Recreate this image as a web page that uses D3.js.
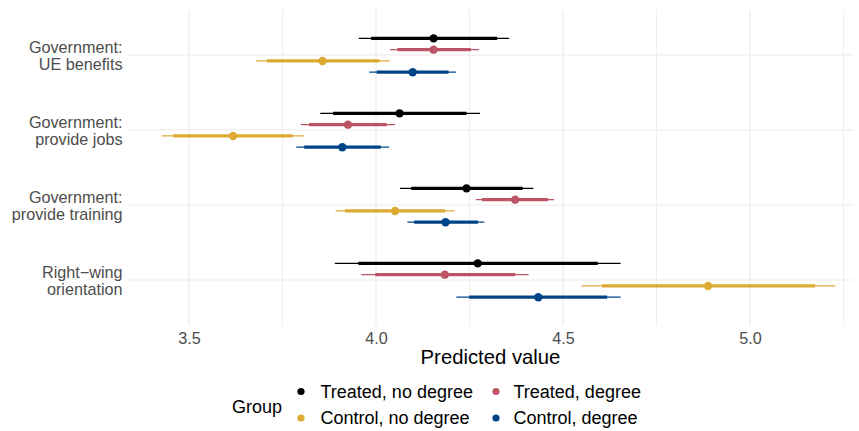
<!DOCTYPE html>
<html>
<head>
<meta charset="utf-8">
<script src="https://cdn.jsdelivr.net/npm/d3@7"></script>
<style>
  html, body { margin: 0; padding: 0; background: #fff; }
  svg { display: block; font-family: "Liberation Sans", Arial, Helvetica, sans-serif; }
</style>
</head>
<body>
<svg id="chart" width="859" height="431"></svg>
<script>
// ---- data ----
const categories = [
  ["Government:", "UE benefits"],
  ["Government:", "provide jobs"],
  ["Government:", "provide training"],
  ["Right\u2212wing", "orientation"]
];
const groups = ["Treated, no degree", "Treated, degree", "Control, no degree", "Control, degree"];
const groupColors = ["#000000", "#BB5566", "#DDAA33", "#004488"];

// rows = categories, columns = groups (same order as `groups`)
const estimate = [
  [4.154, 4.154, 3.857, 4.098],
  [4.063, 3.925, 3.618, 3.910],
  [4.242, 4.372, 4.051, 4.186],
  [4.272, 4.184, 4.888, 4.434]
];
const lower95 = [
  [3.954, 4.038, 3.679, 3.982],
  [3.851, 3.799, 3.427, 3.787],
  [4.064, 4.267, 3.892, 4.084],
  [3.890, 3.961, 4.549, 4.215]
];
const upper95 = [
  [4.356, 4.275, 4.037, 4.214],
  [4.278, 4.051, 3.807, 4.035],
  [4.421, 4.476, 4.210, 4.290],
  [4.654, 4.408, 5.228, 4.654]
];
const lower90 = [
  [3.987, 4.057, 3.708, 4.002],
  [3.885, 3.821, 3.458, 3.808],
  [4.094, 4.283, 3.917, 4.102],
  [3.953, 3.998, 4.604, 4.249]
];
const upper90 = [
  [4.324, 4.254, 4.009, 4.194],
  [4.242, 4.029, 3.777, 4.013],
  [4.392, 4.460, 4.185, 4.273],
  [4.593, 4.372, 5.174, 4.618]
];
const majorTicks = [3.5, 4.0, 4.5, 5.0];
const tickLabels = ["3.5", "4.0", "4.5", "5.0"];
const minorTicks = [3.75, 4.25, 4.75, 5.25];
const xTitle = "Predicted value";
const legendTitle = "Group";

// ---- layout ----
const svg = d3.select("#chart");
const panel = { left: 128, right: 853, top: 10, bottom: 325 };

const x = d3.scaleLinear().domain([3.3369, 5.2754]).range([panel.left, panel.right]);
const catIdx = categories.map((d, i) => i);
const y = d3.scalePoint().domain(catIdx).range([panel.top, panel.bottom]).padding(0.6);
const dodge = d3.scalePoint().domain(d3.range(groups.length)).range([-16.6, 17.2]);

// rows of data
const rows = [];
catIdx.forEach(c => groups.forEach((g, gi) => {
  rows.push({ c, gi, est: estimate[c][gi], lo95: lower95[c][gi], hi95: upper95[c][gi],
              lo90: lower90[c][gi], hi90: upper90[c][gi] });
}));

// grid
const grid = svg.append("g");
grid.selectAll(".minor").data(minorTicks).join("line")
  .attr("x1", d => x(d)).attr("x2", d => x(d))
  .attr("y1", panel.top).attr("y2", panel.bottom)
  .attr("stroke", "#EFEFEF").attr("stroke-width", 1.1);
grid.selectAll(".major").data(majorTicks).join("line")
  .attr("x1", d => x(d)).attr("x2", d => x(d))
  .attr("y1", panel.top).attr("y2", panel.bottom)
  .attr("stroke", "#EBEBEB").attr("stroke-width", 1.2);
grid.selectAll(".hmajor").data(catIdx).join("line")
  .attr("x1", panel.left).attr("x2", panel.right)
  .attr("y1", d => y(d)).attr("y2", d => y(d))
  .attr("stroke", "#EBEBEB").attr("stroke-width", 1.2);

// x axis labels
const xAxis = d3.axisBottom(x).tickValues(majorTicks)
  .tickFormat((d, i) => tickLabels[i]).tickSize(0).tickPadding(0);
const gx = svg.append("g").attr("transform", `translate(0,${panel.bottom})`).call(xAxis);
gx.select(".domain").remove();
gx.selectAll("text").attr("fill", "#4D4D4D").attr("font-size", "16.2px")
  .attr("dy", null).attr("y", 19);

svg.append("text").attr("x", (panel.left + panel.right) / 2).attr("y", 363.5)
  .attr("text-anchor", "middle").attr("font-size", "20.3px").attr("fill", "#000")
  .text(xTitle);

// y axis labels
const ylab = svg.append("g");
catIdx.forEach(c => {
  const t = ylab.append("text").attr("text-anchor", "end")
    .attr("font-size", "16.2px").attr("fill", "#4D4D4D");
  categories[c].forEach((line, li) => {
    t.append("tspan").attr("x", 122.5).attr("y", y(c) - 2.5 + li * 17.3).text(line);
  });
});

// intervals
const marks = svg.append("g");
marks.selectAll(".thin").data(rows).join("line")
  .attr("x1", d => x(d.lo95)).attr("x2", d => x(d.hi95))
  .attr("y1", d => y(d.c) + dodge(d.gi)).attr("y2", d => y(d.c) + dodge(d.gi))
  .attr("stroke", d => groupColors[d.gi]).attr("stroke-width", 1.2);
marks.selectAll(".thick").data(rows).join("line")
  .attr("x1", d => x(d.lo90)).attr("x2", d => x(d.hi90))
  .attr("y1", d => y(d.c) + dodge(d.gi)).attr("y2", d => y(d.c) + dodge(d.gi))
  .attr("stroke", d => groupColors[d.gi]).attr("stroke-width", 3.2);
marks.selectAll(".dot").data(rows).join("circle")
  .attr("cx", d => x(d.est)).attr("cy", d => y(d.c) + dodge(d.gi))
  .attr("r", 4.2).attr("fill", d => groupColors[d.gi]);

// legend
const leg = svg.append("g");
leg.append("text").attr("x", 232).attr("y", 412.5).attr("font-size", "18px")
  .attr("fill", "#000").text(legendTitle);
const legX = [301, 496];
const legTextX = [320.5, 513.5];
const legY = [391.5, 418];
groups.forEach((g, gi) => {
  const col = gi % 2, row = Math.floor(gi / 2);
  leg.append("circle").attr("cx", legX[col]).attr("cy", legY[row]).attr("r", 3.6)
    .attr("fill", groupColors[gi]);
  leg.append("text").attr("x", legTextX[col]).attr("y", legY[row] + 6.4)
    .attr("font-size", "18px").attr("fill", "#000").text(g);
});
</script>
</body>
</html>
